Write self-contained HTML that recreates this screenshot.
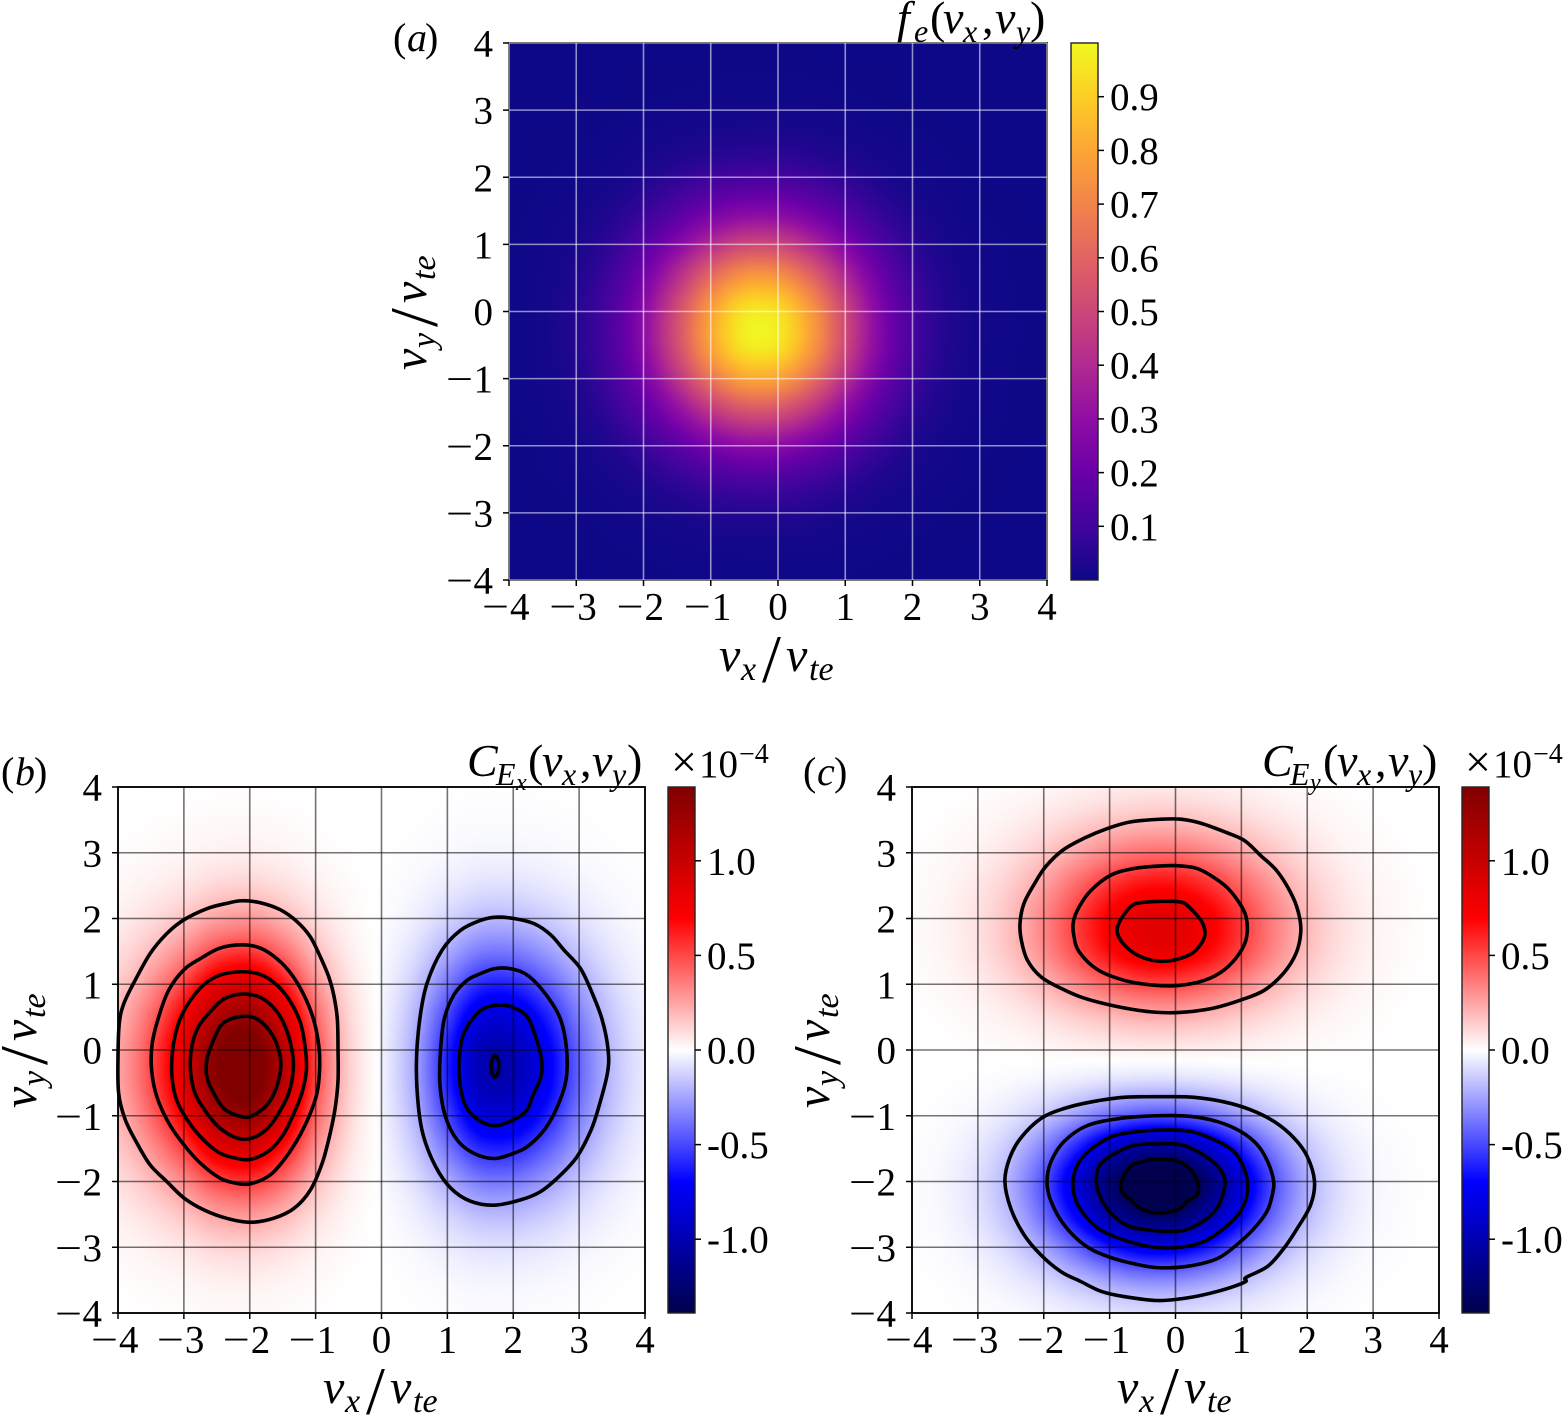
<!DOCTYPE html>
<html lang="en">
<head>
<meta charset="utf-8">
<title>Distribution function and field-particle correlations</title>
<style>
html,body{margin:0;padding:0;background:#fff;}
#figure{position:relative;width:1565px;height:1415px;overflow:hidden;background:#fff;}
canvas{position:absolute;display:block;}
svg{position:absolute;left:0;top:0;}
text{font-family:"Liberation Serif","DejaVu Serif",serif;fill:#000;}
.it{font-style:italic;}
.up{font-style:normal;}
</style>
</head>
<body>
<div id="figure">
<canvas id="heat-a" width="538" height="537" style="left:509px;top:43px"></canvas>
<canvas id="heat-b" width="527" height="526" style="left:118px;top:787px"></canvas>
<canvas id="heat-c" width="527" height="526" style="left:912px;top:787px"></canvas>
<svg id="chart" width="1565" height="1415" viewBox="0 0 1565 1415" xmlns="http://www.w3.org/2000/svg">
<defs id="defs"></defs>
<g id="marks"></g>

<text font-size="40" y="51"><tspan x="393" class="up">(</tspan><tspan x="407" class="it">a</tspan><tspan x="425" class="up">)</tspan></text>
<text font-size="40" y="785"><tspan x="1" class="up">(</tspan><tspan x="15" class="it">b</tspan><tspan x="34" class="up">)</tspan></text>
<text font-size="40" y="785"><tspan x="803" class="up">(</tspan><tspan x="817" class="it">c</tspan><tspan x="834" class="up">)</tspan></text>

<text font-size="46" y="33"><tspan x="897" class="it">f</tspan><tspan x="914" y="42" font-size="32" class="it">e</tspan><tspan x="930" y="33" class="up">(</tspan><tspan x="943" class="it">v</tspan><tspan x="963" y="42" font-size="32" class="it">x</tspan><tspan x="982" y="33" class="up">,</tspan><tspan x="995" class="it">v</tspan><tspan x="1016" y="42" font-size="32" class="it">y</tspan><tspan x="1030" y="33" class="up">)</tspan></text>

<text font-size="46" y="776"><tspan x="467" class="it">C</tspan><tspan x="496" y="785" font-size="32" class="it">E</tspan><tspan x="516" y="790" font-size="24" class="it">x</tspan><tspan x="528" y="776" class="up">(</tspan><tspan x="542" class="it">v</tspan><tspan x="562" y="785" font-size="32" class="it">x</tspan><tspan x="580" y="776" class="up">,</tspan><tspan x="592" class="it">v</tspan><tspan x="612" y="785" font-size="32" class="it">y</tspan><tspan x="627" y="776" class="up">)</tspan></text>

<text font-size="46" y="776"><tspan x="1262" class="it">C</tspan><tspan x="1290" y="785" font-size="32" class="it">E</tspan><tspan x="1310" y="790" font-size="24" class="it">y</tspan><tspan x="1323" y="776" class="up">(</tspan><tspan x="1337" class="it">v</tspan><tspan x="1357" y="785" font-size="32" class="it">x</tspan><tspan x="1375" y="776" class="up">,</tspan><tspan x="1388" class="it">v</tspan><tspan x="1408" y="785" font-size="32" class="it">y</tspan><tspan x="1422" y="776" class="up">)</tspan></text>

<text font-size="39" y="777"><tspan x="671" font-size="46" class="up">×</tspan><tspan x="699" class="up">10</tspan><tspan x="739" y="763" font-size="28" class="up">−4</tspan></text>
<text font-size="39" y="777"><tspan x="1465" font-size="46" class="up">×</tspan><tspan x="1493" class="up">10</tspan><tspan x="1533" y="763" font-size="28" class="up">−4</tspan></text>

<g transform="translate(719,671)"><text font-size="48"><tspan x="0" y="0" class="it">v</tspan><tspan x="22" y="9" font-size="34" class="it">x</tspan><tspan x="43" y="11" font-size="68" class="up">/</tspan><tspan x="67" y="0" class="it">v</tspan><tspan x="90" y="9" font-size="34" class="it">te</tspan></text></g>
<g transform="translate(426,370) rotate(-90)"><text font-size="48"><tspan x="0" y="0" class="it">v</tspan><tspan x="22" y="9" font-size="34" class="it">y</tspan><tspan x="43" y="11" font-size="68" class="up">/</tspan><tspan x="67" y="0" class="it">v</tspan><tspan x="90" y="9" font-size="34" class="it">te</tspan></text></g>

<g transform="translate(323,1403)"><text font-size="48"><tspan x="0" y="0" class="it">v</tspan><tspan x="22" y="9" font-size="34" class="it">x</tspan><tspan x="43" y="11" font-size="68" class="up">/</tspan><tspan x="67" y="0" class="it">v</tspan><tspan x="90" y="9" font-size="34" class="it">te</tspan></text></g>
<g transform="translate(36,1108) rotate(-90)"><text font-size="48"><tspan x="0" y="0" class="it">v</tspan><tspan x="22" y="9" font-size="34" class="it">y</tspan><tspan x="43" y="11" font-size="68" class="up">/</tspan><tspan x="67" y="0" class="it">v</tspan><tspan x="90" y="9" font-size="34" class="it">te</tspan></text></g>

<g transform="translate(1117,1403)"><text font-size="48"><tspan x="0" y="0" class="it">v</tspan><tspan x="22" y="9" font-size="34" class="it">x</tspan><tspan x="43" y="11" font-size="68" class="up">/</tspan><tspan x="67" y="0" class="it">v</tspan><tspan x="90" y="9" font-size="34" class="it">te</tspan></text></g>
<g transform="translate(829,1108) rotate(-90)"><text font-size="48"><tspan x="0" y="0" class="it">v</tspan><tspan x="22" y="9" font-size="34" class="it">y</tspan><tspan x="43" y="11" font-size="68" class="up">/</tspan><tspan x="67" y="0" class="it">v</tspan><tspan x="90" y="9" font-size="34" class="it">te</tspan></text></g>
</svg>
</div>
<script>
// ---------- axis categories and tick labels ----------
const gridV = [-4,-3.5,-3,-2.5,-2,-1.5,-1,-0.5,0,0.5,1,1.5,2,2.5,3,3.5,4];
const axisTicks = [-4,-3,-2,-1,0,1,2,3,4];
const axisTickLabels = ['\u22124','\u22123','\u22122','\u22121','0','1','2','3','4'];
const feBarTicks = [0.1,0.2,0.3,0.4,0.5,0.6,0.7,0.8,0.9];
const feBarLabels = ['0.1','0.2','0.3','0.4','0.5','0.6','0.7','0.8','0.9'];
const corrBarTicks = [1.0,0.5,0,-0.5,-1.0];
const corrBarLabels = ['1.0','0.5','0.0','-0.5','-1.0'];

// ---------- colormaps ----------
const plasmaStops = [[13,8,135],[65,4,157],[106,0,168],[143,13,164],[177,42,144],[204,71,120],[225,100,98],[242,132,75],[252,166,54],[252,206,37],[240,249,33]];
const seismicStops = [[0,0,77],[0,0,255],[255,255,255],[255,0,0],[128,0,0]];

// ---------- heatmap values: rows from vy=4 (top) to vy=-4, columns vx=-4 to 4 ----------
const feValues = [
[0,0,0,0,0,0,0,.001,.001,0,0,0,0,0,0,0,0],
[0,0,0,0,.001,.001,.002,.003,.003,.002,.001,.001,0,0,0,0,0],
[0,0,.001,.001,.003,.006,.009,.011,.011,.009,.006,.003,.001,0,0,0,0],
[0,.001,.002,.005,.012,.022,.033,.04,.04,.032,.021,.011,.005,.002,0,0,0],
[0,.002,.005,.015,.034,.063,.094,.114,.113,.092,.06,.032,.014,.005,.001,0,0],
[.001,.004,.012,.035,.078,.144,.217,.264,.262,.211,.139,.074,.032,.011,.003,.001,0],
[.002,.007,.023,.065,.147,.272,.407,.497,.493,.398,.261,.139,.06,.021,.006,.002,.001],
[.002,.01,.036,.1,.226,.416,.624,.761,.755,.609,.4,.213,.093,.033,.009,.002,.001],
[.003,.013,.045,.124,.281,.518,.776,.947,.939,.758,.498,.265,.115,.041,.012,.003,.001],
[.003,.013,.045,.125,.284,.524,.786,.958,.951,.767,.504,.269,.117,.041,.012,.003,.001],
[.002,.01,.037,.103,.234,.432,.647,.789,.783,.632,.415,.221,.096,.034,.01,.002,.001],
[.002,.007,.025,.069,.157,.289,.434,.529,.525,.424,.278,.148,.064,.023,.006,.002,.001],
[.001,.004,.014,.038,.086,.158,.237,.289,.286,.231,.152,.081,.035,.012,.004,.001,0],
[0,.002,.006,.017,.038,.07,.105,.128,.127,.103,.067,.036,.016,.006,.002,0,0],
[0,.001,.002,.006,.014,.025,.038,.046,.046,.037,.024,.013,.006,.002,.001,0,0],
[0,0,.001,.002,.004,.007,.011,.013,.013,.011,.007,.004,.002,.001,0,0,0],
[0,0,0,0,.001,.002,.003,.003,.003,.003,.002,.001,0,0,0,0,0]
];
const cExValues = [
[.001,.001,.002,.004,.004,.003,.001,0,0,-.001,-.002,-.003,-.003,-.002,-.001,-.001,0],
[.002,.005,.008,.013,.014,.01,.005,.001,0,-.002,-.006,-.009,-.009,-.007,-.004,-.002,-.001],
[.007,.014,.024,.038,.041,.03,.014,.004,-.001,-.007,-.017,-.027,-.027,-.021,-.012,-.005,-.002],
[.019,.038,.066,.103,.113,.083,.039,.011,-.002,-.018,-.047,-.074,-.075,-.057,-.032,-.014,-.005],
[.043,.086,.152,.235,.259,.191,.089,.024,-.005,-.041,-.107,-.169,-.172,-.13,-.074,-.032,-.01],
[.083,.167,.293,.455,.501,.369,.172,.047,-.01,-.08,-.207,-.328,-.333,-.251,-.143,-.062,-.02],
[.137,.274,.481,.746,.821,.606,.282,.078,-.016,-.131,-.339,-.537,-.546,-.412,-.235,-.101,-.033],
[.19,.381,.669,1.038,1.142,.842,.393,.108,-.022,-.183,-.471,-.747,-.759,-.573,-.326,-.141,-.046],
[.224,.45,.79,1.225,1.348,.995,.464,.127,-.026,-.216,-.557,-.882,-.897,-.676,-.385,-.167,-.054],
[.224,.45,.79,1.225,1.348,.995,.464,.127,-.026,-.216,-.557,-.882,-.897,-.676,-.385,-.167,-.054],
[.19,.381,.669,1.038,1.142,.842,.393,.108,-.022,-.183,-.471,-.747,-.759,-.573,-.326,-.141,-.046],
[.137,.274,.481,.746,.821,.606,.282,.078,-.016,-.131,-.339,-.537,-.546,-.412,-.235,-.101,-.033],
[.083,.167,.293,.455,.501,.369,.172,.047,-.01,-.08,-.207,-.328,-.333,-.251,-.143,-.062,-.02],
[.043,.086,.152,.235,.259,.191,.089,.024,-.005,-.041,-.107,-.169,-.172,-.13,-.074,-.032,-.01],
[.019,.038,.066,.103,.113,.083,.039,.011,-.002,-.018,-.047,-.074,-.075,-.057,-.032,-.014,-.005],
[.007,.014,.024,.038,.041,.03,.014,.004,-.001,-.007,-.017,-.027,-.027,-.021,-.012,-.005,-.002],
[.002,.005,.008,.013,.014,.01,.005,.001,0,-.002,-.006,-.009,-.009,-.007,-.004,-.002,-.001]
];
const cEyValues = [
[.001,.002,.005,.012,.022,.035,.047,.056,.056,.048,.036,.023,.012,.006,.002,.001,0],
[.002,.006,.016,.035,.064,.102,.139,.163,.164,.141,.105,.067,.037,.017,.007,.002,.001],
[.005,.014,.035,.077,.142,.225,.307,.361,.363,.313,.232,.148,.081,.038,.016,.005,.001],
[.008,.023,.06,.128,.238,.378,.516,.604,.608,.526,.39,.248,.136,.063,.026,.009,.002],
[.01,.029,.076,.163,.302,.48,.655,.768,.773,.668,.495,.315,.173,.081,.033,.011,.003],
[.009,.028,.071,.153,.284,.451,.616,.722,.726,.628,.465,.296,.162,.076,.031,.01,.003],
[.006,.018,.045,.098,.182,.289,.394,.461,.464,.401,.297,.189,.104,.048,.02,.006,.002],
[.003,.008,.02,.042,.079,.125,.17,.199,.2,.173,.128,.082,.045,.021,.009,.003,.001],
[.001,.002,.005,.009,.017,.026,.034,.04,.04,.035,.027,.018,.01,.005,.003,.001,0],
[-.001,-.002,-.006,-.016,-.033,-.059,-.087,-.105,-.105,-.087,-.058,-.033,-.015,-.006,-.001,-.001,0],
[-.002,-.008,-.026,-.067,-.142,-.249,-.364,-.44,-.44,-.364,-.249,-.142,-.067,-.026,-.008,-.002,0],
[-.005,-.018,-.059,-.151,-.321,-.565,-.826,-.997,-.997,-.826,-.565,-.321,-.151,-.059,-.018,-.005,-.001],
[-.007,-.025,-.081,-.205,-.437,-.768,-1.122,-1.354,-1.354,-1.122,-.768,-.437,-.205,-.081,-.025,-.007,-.001],
[-.006,-.022,-.07,-.178,-.378,-.665,-.971,-1.172,-1.172,-.971,-.665,-.378,-.178,-.07,-.022,-.006,-.001],
[-.004,-.013,-.042,-.107,-.228,-.4,-.585,-.706,-.706,-.585,-.4,-.228,-.107,-.042,-.013,-.004,-.001],
[-.002,-.005,-.018,-.045,-.095,-.168,-.245,-.296,-.296,-.245,-.168,-.095,-.045,-.018,-.005,-.002,0],
[0,-.002,-.005,-.013,-.028,-.049,-.072,-.087,-.087,-.072,-.049,-.028,-.013,-.005,-.002,0,0]
];
const corrAmplitude = 1.09;

// ---------- contour outlines in (vx, vy) units ----------
const cExContours = [
[[-2.12,2.27],[-1.84,2.24],[-1.53,2.13],[-1.28,1.95],[-1.08,1.72],[-.93,1.42],[-.80,1.11],[-.72,.81],[-.67,.46],[-.66,0],[-.66,-.46],[-.70,-.86],[-.78,-1.27],[-.90,-1.72],[-1.08,-2.13],[-1.33,-2.41],[-1.64,-2.56],[-1.99,-2.62],[-2.35,-2.56],[-2.70,-2.43],[-3.00,-2.25],[-3.26,-2.00],[-3.51,-1.75],[-3.71,-1.42],[-3.89,-1.06],[-3.99,-.66],[-4.00,-.10],[-3.98,.41],[-3.91,.71],[-3.74,1.06],[-3.51,1.47],[-3.26,1.77],[-3.00,1.98],[-2.65,2.15],[-2.35,2.23]],
[[-2.12,1.60],[-1.84,1.55],[-1.59,1.39],[-1.38,1.17],[-1.18,.84],[-1.03,.46],[-.95,.05],[-.94,-.30],[-.98,-.66],[-1.10,-1.01],[-1.28,-1.37],[-1.48,-1.67],[-1.69,-1.90],[-1.97,-2.03],[-2.19,-2.03],[-2.45,-1.95],[-2.75,-1.72],[-3.00,-1.44],[-3.23,-1.11],[-3.41,-.71],[-3.49,-.30],[-3.48,.10],[-3.38,.51],[-3.23,.91],[-3.00,1.22],[-2.75,1.39],[-2.45,1.55]],
[[-2.12,1.19],[-1.84,1.15],[-1.59,.99],[-1.38,.73],[-1.23,.41],[-1.16,.05],[-1.14,-.30],[-1.21,-.66],[-1.33,-.96],[-1.48,-1.27],[-1.69,-1.52],[-1.97,-1.66],[-2.19,-1.65],[-2.45,-1.57],[-2.70,-1.37],[-2.93,-1.09],[-3.11,-.76],[-3.18,-.41],[-3.17,0],[-3.08,.41],[-2.93,.71],[-2.70,.99],[-2.45,1.14]],
[[-2.12,.85],[-1.84,.80],[-1.61,.61],[-1.46,.35],[-1.36,0],[-1.34,-.30],[-1.41,-.66],[-1.59,-1.01],[-1.76,-1.22],[-1.97,-1.34],[-2.19,-1.34],[-2.45,-1.19],[-2.65,-.96],[-2.83,-.66],[-2.90,-.30],[-2.88,.05],[-2.78,.35],[-2.60,.58],[-2.40,.77]],
[[-2.12,.51],[-1.89,.47],[-1.69,.28],[-1.56,0],[-1.53,-.28],[-1.61,-.61],[-1.76,-.86],[-1.99,-1.01],[-2.14,-1.01],[-2.37,-.91],[-2.52,-.71],[-2.65,-.41],[-2.65,-.15],[-2.55,.15],[-2.40,.41]],
[[1.73,2.02],[2.01,2.00],[2.32,1.92],[2.57,1.75],[2.77,1.52],[3.02,1.24],[3.20,.86],[3.35,.46],[3.44,0],[3.43,-.35],[3.30,-.86],[3.18,-1.22],[2.97,-1.62],[2.72,-1.90],[2.42,-2.15],[2.11,-2.28],[1.71,-2.36],[1.35,-2.30],[1.05,-2.10],[.82,-1.77],[.64,-1.32],[.56,-.86],[.53,-.20],[.58,.46],[.69,1.01],[.92,1.52],[1.20,1.82],[1.50,1.97]],
[[1.73,1.24],[1.99,1.23],[2.24,1.12],[2.52,.81],[2.72,.46],[2.81,0],[2.80,-.46],[2.67,-.86],[2.49,-1.19],[2.24,-1.45],[2.01,-1.57],[1.71,-1.65],[1.40,-1.57],[1.15,-1.37],[.97,-1.01],[.89,-.56],[.89,-.10],[.95,.46],[1.10,.84],[1.30,1.06],[1.50,1.16]],
[[1.73,.68],[1.99,.65],[2.21,.51],[2.34,.20],[2.43,-.15],[2.42,-.41],[2.29,-.71],[2.21,-.91],[2.01,-1.06],[1.73,-1.15],[1.48,-1.07],[1.28,-.86],[1.19,-.51],[1.18,-.15],[1.25,.25],[1.48,.58]],
[[1.72,-.08],[1.77,-.15],[1.78,-.24],[1.77,-.35],[1.72,-.41],[1.68,-.35],[1.67,-.24],[1.68,-.15]]
];
const cEyContours = [
[[-.22,3.51],[.08,3.51],[.38,3.45],[.74,3.32],[1.04,3.19],[1.29,2.96],[1.55,2.71],[1.78,2.33],[1.88,2.03],[1.90,1.77],[1.83,1.47],[1.65,1.18],[1.35,.91],[.99,.76],[.54,.63],[.03,.57],[-.37,.58],[-.88,.66],[-1.39,.79],[-1.74,.94],[-2.04,1.11],[-2.25,1.37],[-2.34,1.67],[-2.36,1.93],[-2.30,2.23],[-2.14,2.53],[-1.97,2.79],[-1.71,3.04],[-1.39,3.22],[-1.03,3.37],[-.68,3.47]],
[[-.22,2.80],[.08,2.80],[.38,2.74],[.74,2.51],[.94,2.28],[1.07,2.03],[1.08,1.72],[.97,1.47],[.74,1.22],[.44,1.06],[.03,.98],[-.37,.99],[-.78,1.06],[-1.18,1.22],[-1.46,1.49],[-1.54,1.72],[-1.55,1.95],[-1.46,2.18],[-1.28,2.43],[-.98,2.66],[-.63,2.76]],
[[-.25,2.26],[.08,2.25],[.23,2.15],[.41,1.93],[.44,1.72],[.28,1.49],[.03,1.38],[-.25,1.35],[-.53,1.42],[-.75,1.57],[-.88,1.77],[-.85,1.95],[-.68,2.18],[-.53,2.24]],
[[-.12,-.71],[.28,-.72],[.74,-.79],[1.14,-.91],[1.50,-1.09],[1.80,-1.34],[2.00,-1.62],[2.11,-2.00],[2.05,-2.36],[1.85,-2.71],[1.65,-3.01],[1.40,-3.29],[1.07,-3.46],[1.05,-3.53],[.64,-3.67],[.18,-3.77],[-.27,-3.81],[-.78,-3.75],[-1.13,-3.67],[-1.44,-3.52],[-1.74,-3.37],[-2.04,-3.12],[-2.30,-2.81],[-2.50,-2.41],[-2.59,-2.00],[-2.52,-1.65],[-2.35,-1.34],[-2.04,-1.04],[-1.69,-.89],[-1.28,-.79],[-.78,-.72]],
[[-.27,-1.00],[.23,-1.01],[.64,-1.09],[.99,-1.24],[1.24,-1.44],[1.40,-1.70],[1.49,-2.00],[1.47,-2.20],[1.40,-2.43],[1.24,-2.66],[.99,-2.91],[.64,-3.17],[.18,-3.29],[-.27,-3.31],[-.68,-3.24],[-1.08,-3.12],[-1.39,-2.96],[-1.69,-2.66],[-1.89,-2.30],[-1.95,-2.00],[-1.89,-1.70],[-1.69,-1.39],[-1.34,-1.15],[-.83,-1.04]],
[[-.27,-1.22],[.23,-1.24],[.64,-1.39],[.89,-1.55],[1.02,-1.75],[1.09,-1.98],[1.08,-2.23],[.97,-2.48],[.74,-2.71],[.44,-2.91],[.08,-3.00],[-.32,-3.00],[-.78,-2.89],[-1.18,-2.71],[-1.44,-2.43],[-1.54,-2.20],[-1.55,-1.95],[-1.46,-1.70],[-1.23,-1.47],[-.88,-1.29]],
[[-.27,-1.43],[.08,-1.44],[.38,-1.57],[.64,-1.77],[.75,-1.98],[.71,-2.23],[.59,-2.46],[.33,-2.66],[.08,-2.75],[-.27,-2.75],[-.68,-2.69],[-.93,-2.53],[-1.11,-2.30],[-1.20,-2.03],[-1.16,-1.77],[-.96,-1.60],[-.63,-1.45]],
[[-.27,-1.66],[.03,-1.69],[.23,-1.82],[.34,-2.03],[.33,-2.20],[.18,-2.30],[.03,-2.43],[-.27,-2.48],[-.53,-2.41],[-.68,-2.28],[-.80,-2.18],[-.82,-2.00],[-.68,-1.77],[-.48,-1.69]]
];

// ---------- layout ----------
const SVGNS = 'http://www.w3.org/2000/svg';
const marks = document.getElementById('marks');
const defs = document.getElementById('defs');

const panelA = {key:'fe', left:509, right:1047, top:43, bottom:580, gridColor:'rgba(255,255,255,0.55)', canvas:'heat-a',
  grid:feValues, amplitude:1, stops:plasmaStops, vmin:0, vmax:1, contours:[],
  bar:{left:1071,right:1098,top:43,bottom:580,vmin:0,vmax:1,ticks:feBarTicks,labels:feBarLabels,labelX:1110}};
const panelB = {key:'cex', left:118, right:645, top:787, bottom:1313, gridColor:'rgba(0,0,0,0.55)', canvas:'heat-b',
  grid:cExValues, amplitude:corrAmplitude, stops:seismicStops, vmin:-1.39, vmax:1.39, contours:cExContours,
  bar:{left:668,right:695,top:787,bottom:1313,vmin:-1.39,vmax:1.39,ticks:corrBarTicks,labels:corrBarLabels,labelX:707}};
const panelC = {key:'cey', left:912, right:1439, top:787, bottom:1313, gridColor:'rgba(0,0,0,0.55)', canvas:'heat-c',
  grid:cEyValues, amplitude:corrAmplitude, stops:seismicStops, vmin:-1.39, vmax:1.39, contours:cEyContours,
  bar:{left:1462,right:1489,top:787,bottom:1313,vmin:-1.39,vmax:1.39,ticks:corrBarTicks,labels:corrBarLabels,labelX:1501}};

function xScale(p, v){ return p.left + (v - gridV[0]) / (gridV[gridV.length-1] - gridV[0]) * (p.right - p.left); }
function yScale(p, v){ return p.bottom - (v - gridV[0]) / (gridV[gridV.length-1] - gridV[0]) * (p.bottom - p.top); }
function barScale(b, v){ return b.bottom - (v - b.vmin) / (b.vmax - b.vmin) * (b.bottom - b.top); }

function colorAt(stops, t){
  t = Math.max(0, Math.min(1, t));
  const f = t * (stops.length - 1);
  const i = Math.min(stops.length - 2, Math.floor(f));
  const u = f - i;
  return [
    stops[i][0] + (stops[i+1][0] - stops[i][0]) * u,
    stops[i][1] + (stops[i+1][1] - stops[i][1]) * u,
    stops[i][2] + (stops[i+1][2] - stops[i][2]) * u
  ];
}

function cubic(a, b, c, d, t){
  return b + 0.5 * t * (c - a + t * (2*a - 5*b + 4*c - d + t * (3*(b - c) + d - a)));
}

function paintHeatmap(p){
  const cv = document.getElementById(p.canvas);
  const ctx = cv.getContext('2d');
  const W = cv.width, H = cv.height;
  const img = ctx.createImageData(W, H);
  const g = p.grid;
  const n = gridV.length;
  const at = (r, c) => g[Math.max(0, Math.min(n-1, r))][Math.max(0, Math.min(n-1, c))];
  const lut = [];
  for (let i = 0; i <= 1024; i++) lut.push(colorAt(p.stops, i / 1024));
  let o = 0;
  for (let py = 0; py < H; py++){
    const fr = (py + 0.5) / H * (n - 1);
    const r = Math.floor(fr), tr = fr - r;
    for (let px = 0; px < W; px++){
      const fc = (px + 0.5) / W * (n - 1);
      const c = Math.floor(fc), tc = fc - c;
      const rows = [];
      for (let k = -1; k <= 2; k++){
        rows.push(cubic(at(r+k,c-1), at(r+k,c), at(r+k,c+1), at(r+k,c+2), tc));
      }
      const v = cubic(rows[0], rows[1], rows[2], rows[3], tr) * p.amplitude;
      const t = Math.max(0, Math.min(1, (v - p.vmin) / (p.vmax - p.vmin)));
      const col = lut[Math.round(t * 1024)];
      img.data[o++] = col[0];
      img.data[o++] = col[1];
      img.data[o++] = col[2];
      img.data[o++] = 255;
    }
  }
  ctx.putImageData(img, 0, 0);
}

function smoothClosedPath(pts){
  const n = pts.length;
  let d = 'M' + pts[0][0].toFixed(2) + ' ' + pts[0][1].toFixed(2);
  for (let i = 0; i < n; i++){
    const p0 = pts[(i - 1 + n) % n], p1 = pts[i], p2 = pts[(i + 1) % n], p3 = pts[(i + 2) % n];
    const c1x = p1[0] + (p2[0] - p0[0]) / 6, c1y = p1[1] + (p2[1] - p0[1]) / 6;
    const c2x = p2[0] - (p3[0] - p1[0]) / 6, c2y = p2[1] - (p3[1] - p1[1]) / 6;
    d += 'C' + c1x.toFixed(2) + ' ' + c1y.toFixed(2) + ' ' + c2x.toFixed(2) + ' ' + c2y.toFixed(2) + ' ' + p2[0].toFixed(2) + ' ' + p2[1].toFixed(2);
  }
  return d + 'Z';
}

function drawLine(parent, x1, y1, x2, y2, stroke, width){
  const l = document.createElementNS(SVGNS, 'line');
  l.setAttribute('x1', x1); l.setAttribute('y1', y1);
  l.setAttribute('x2', x2); l.setAttribute('y2', y2);
  l.setAttribute('stroke', stroke);
  l.setAttribute('stroke-width', width);
  parent.appendChild(l);
  return l;
}

function drawText(parent, x, y, str, anchor){
  const t = document.createElementNS(SVGNS, 'text');
  t.setAttribute('x', x); t.setAttribute('y', y);
  t.setAttribute('font-size', '39');
  t.setAttribute('text-anchor', anchor);
  t.textContent = str;
  parent.appendChild(t);
  return t;
}

// Tick label with a leading minus sign stretched to the wider display-math width.
function drawSignedText(parent, minusX, digitX, y, str){
  const t = document.createElementNS(SVGNS, 'text');
  t.setAttribute('y', y);
  t.setAttribute('font-size', '39');
  const m = document.createElementNS(SVGNS, 'tspan');
  m.setAttribute('x', minusX);
  m.setAttribute('textLength', '27');
  m.setAttribute('lengthAdjust', 'spacingAndGlyphs');
  m.textContent = str.charAt(0);
  t.appendChild(m);
  const d = document.createElementNS(SVGNS, 'tspan');
  d.setAttribute('x', digitX);
  d.textContent = str.slice(1);
  t.appendChild(d);
  parent.appendChild(t);
  return t;
}

function drawPanel(p){
  paintHeatmap(p);
  const group = document.createElementNS(SVGNS, 'g');
  
  
  marks.appendChild(group);

  // contours
  p.contours.forEach(function(c){
    const pts = c.map(function(q){ return [xScale(p, q[0]), yScale(p, q[1])]; });
    const path = document.createElementNS(SVGNS, 'path');
    path.setAttribute('d', smoothClosedPath(pts));
    path.setAttribute('fill', 'none');
    path.setAttribute('stroke', '#000');
    path.setAttribute('stroke-width', '3.6');
    path.setAttribute('stroke-linejoin', 'round');
    
    
    group.appendChild(path);
  });

  // frame
  const frame = document.createElementNS(SVGNS, 'rect');
  frame.setAttribute('x', p.left); frame.setAttribute('y', p.top);
  frame.setAttribute('width', p.right - p.left); frame.setAttribute('height', p.bottom - p.top);
  frame.setAttribute('fill', 'none');
  frame.setAttribute('stroke', '#000');
  frame.setAttribute('stroke-width', '1.8');
  
  
  group.appendChild(frame);

  // grid lines, ticks, tick labels
  axisTicks.forEach(function(v, i){
    const x = xScale(p, v), y = yScale(p, v);
    const gx = drawLine(group, x, p.top, x, p.bottom, p.gridColor, 1.6);
    
    
    const gy = drawLine(group, p.left, y, p.right, y, p.gridColor, 1.6);
    
    
    const tx = drawLine(group, x, p.bottom, x, p.bottom + 6, '#000', 1.5);
    
    
    const ty = drawLine(group, p.left - 6, y, p.left, y, '#000', 1.5);
    
    
    let lx, ly;
    if (v < 0) {
      lx = drawSignedText(group, x - 27, x + 1, p.bottom + 39.5, axisTickLabels[i]);
      ly = drawSignedText(group, p.left - 63, p.left - 35.5, y + 13.5, axisTickLabels[i]);
    } else {
      lx = drawText(group, x, p.bottom + 39.5, axisTickLabels[i], 'middle');
      ly = drawText(group, p.left - 16, y + 13.5, axisTickLabels[i], 'end');
    }
    
    
    
    
  });

  // colorbar
  const b = p.bar;
  const gradId = 'grad-' + p.key;
  const grad = document.createElementNS(SVGNS, 'linearGradient');
  grad.setAttribute('id', gradId);
  grad.setAttribute('x1', '0'); grad.setAttribute('y1', '1');
  grad.setAttribute('x2', '0'); grad.setAttribute('y2', '0');
  p.stops.forEach(function(s, i){
    const st = document.createElementNS(SVGNS, 'stop');
    st.setAttribute('offset', i / (p.stops.length - 1));
    st.setAttribute('stop-color', 'rgb(' + s[0] + ',' + s[1] + ',' + s[2] + ')');
    grad.appendChild(st);
  });
  defs.appendChild(grad);
  const barRect = document.createElementNS(SVGNS, 'rect');
  barRect.setAttribute('x', b.left); barRect.setAttribute('y', b.top);
  barRect.setAttribute('width', b.right - b.left); barRect.setAttribute('height', b.bottom - b.top);
  barRect.setAttribute('fill', 'url(#' + gradId + ')');
  barRect.setAttribute('stroke', '#222');
  barRect.setAttribute('stroke-width', '1.4');
  
  
  group.appendChild(barRect);
  b.ticks.forEach(function(v, i){
    const y = barScale(b, v);
    const tk = drawLine(group, b.right, y, b.right + 6, y, '#000', 1.5);
    
    
    const lb = drawText(group, b.labelX, y + 13.5, b.labels[i], 'start');
    
    
  });
}

drawPanel(panelA);
drawPanel(panelB);
drawPanel(panelC);
</script>
</body>
</html>
